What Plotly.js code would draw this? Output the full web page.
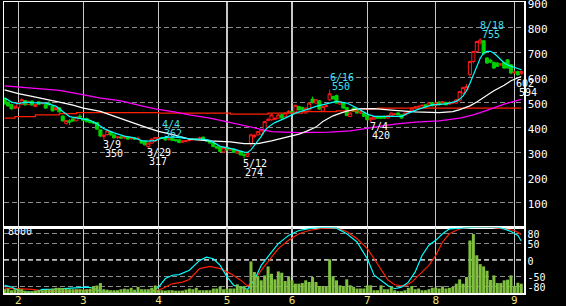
<!DOCTYPE html>
<html><head><meta charset="utf-8">
<script src="https://cdn.plot.ly/plotly-3.0.1.min.js"></script>
<style>html,body{margin:0;padding:0;background:#000;}#chart{width:566px;height:306px;}</style>
</head><body><div id="chart"></div>
<script>
// ---- daily candles (trading-day index 0 = late January) ----
const opens = [514,498,490,475,478,492,506,490,504,482,501,494,491,495,484,470,477,444,415,425,433,425,444,433,434,424,420,418,389,362,370,380,369,358,361,357,360,354,356,352,345,342,322,336,344,356,358,354,350,356,350,349,340,342,346,350,352,352,360,349,346,336,322,318,300,318,308,312,296,302,290,283,335,362,369,372,385,426,429,430,436,449,442,458,462,460,482,478,456,469,512,496,505,464,482,509,522,526,492,496,478,442,476,469,456,456,446,429,432,438,438,442,436,445,450,456,449,448,456,466,478,481,485,489,486,498,486,500,492,498,492,496,496,505,536,549,610,662,702,738,745,676,667,658,656,648,658,669,649,616,622,613];
const highs = [518,503,494,486,500,515,509,506,507,493,504,500,494,505,486,480,479,448,428,432,436,442,452,436,438,427,424,420,391,372,390,382,372,365,364,366,362,360,360,362,348,344,338,355,360,360,362,358,356,358,352,351,346,348,352,356,357,362,362,352,348,338,325,320,320,320,316,314,308,304,296,298,374,372,384,392,425,438,452,440,452,452,458,468,466,490,485,482,478,500,522,512,508,484,490,550,526,530,506,500,480,460,480,472,470,458,448,440,442,444,444,446,448,458,456,460,451,458,464,478,484,486,490,492,498,500,498,504,504,502,504,502,512,545,562,572,665,705,745,755,748,680,672,662,660,656,662,672,652,626,625,628];
const lows = [490,480,470,472,475,488,486,488,486,480,488,490,473,483,462,466,458,421,410,408,422,423,436,424,419,415,412,388,360,350,366,365,354,352,354,352,350,349,350,348,334,327,317,333,340,352,352,347,346,345,343,336,337,339,342,346,348,349,347,342,334,320,312,300,298,306,305,297,293,287,274,280,322,356,366,368,383,424,426,428,434,434,440,455,455,458,466,467,454,466,494,494,468,460,480,505,510,494,490,474,444,440,460,454,452,441,427,420,430,434,432,434,434,443,448,447,434,445,454,464,476,479,483,478,484,483,484,487,490,487,490,493,494,502,532,546,600,655,698,730,690,652,656,632,640,644,632,634,612,612,606,610];
const closes = [493,485,473,483,497,510,489,503,488,490,491,497,476,490,465,477,461,425,426,420,424,440,440,427,421,418,416,392,364,368,385,369,357,360,356,362,352,357,352,355,336,329,336,352,358,358,355,349,353,347,345,338,344,346,349,353,350,356,349,345,336,322,316,302,318,309,313,299,305,289,286,296,369,366,382,389,422,430,449,434,449,436,456,462,458,487,469,470,476,496,498,509,472,482,486,533,513,496,502,476,446,456,463,456,462,443,429,436,440,436,436,436,446,456,452,449,436,456,462,476,480,483,487,480,496,485,496,489,502,489,496,498,509,542,558,562,662,702,742,748,693,656,660,636,643,652,636,636,616,620,609,622];
const volumes = [460,530,340,460,530,460,280,220,220,300,340,340,400,460,530,630,630,600,530,460,460,460,460,400,460,500,790,910,1210,460,400,340,340,340,460,530,460,630,400,750,460,460,460,630,910,340,340,300,340,340,280,280,300,400,545,460,630,340,340,340,340,545,545,820,460,545,545,545,1060,850,850,420,3840,2550,2060,1540,2140,3230,2340,1660,2620,2460,1460,2020,1540,1130,1130,1210,1540,1340,1940,1340,850,850,750,4090,2020,1540,930,850,1660,930,750,545,545,545,930,930,340,340,930,460,460,750,340,220,220,340,630,850,460,545,340,340,460,630,670,545,820,545,630,750,1130,1660,1130,1940,6390,7170,4590,3510,3230,2700,1580,2140,1210,1210,1540,1620,2140,850,1250,1130];

// ---- moving averages (day index, value) ----
const shortMaDays = [0,2,4,6,8,10,12,14,15,17,19,22,25,27,29,32,35,38,40,42,44,46,49,53,55,58,60,63,67,70,71,72,73,74,75,76,77,79,82,85,88,91,94,97,100,103,106,108,111,116,118,121,125,129,132,133,134,135,136,137,138,139,140,141,142,143,144,145,146,147,148,149,150,151];
const shortMa = [517,500,494,500,498,497,496,488,484,462,442,435,427,413,394,377,364,357,346,344,346,357,361,355,352,352,347,323,312,300,299,309,325,345,363,385,400,418,436,456,469,483,493,503,496,476,452,443,443,443,456,472,489,493,503,512,525,545,575,610,643,675,696,703,703,695,683,670,656,648,643,638,633,629];
const midMaDays = [0,4,8,12,16,20,23,28,34,38,42,45,50,54,60,66,70,74,78,82,86,88,91,93,96,98,100,103,108,114,120,127,131,133,136,138,140,143,146,148,151];
const midMa = [549,534,523,510,500,488,476,463,436,415,396,383,367,352,345,341,334,334,345,358,372,382,400,422,445,455,464,473,474,467,461,458,462,470,485,500,518,545,567,585,602];
const longMaDays = [0,9,16,22,28,32,34,40,44,50,54,60,66,72,78,86,95,101,104,109,114,120,127,133,137,142,146,151];
const longMa = [565,556,547,532,516,509,505,485,473,460,449,436,418,402,382,378,380,385,391,400,412,420,425,436,449,472,492,511];
const stepMaDays = [0,3,9,16,21,45,66,77,87,97,103,109,151];
const stepMa = [436,442,449,454,458,456,452,456,462,465,473,476,476];

// ---- oscillator (lower panel) ----
const oscFastDays = [0,2,4,6,9,11,14,18,22,24,26,28,31,34,43,45,47,49,51,53,54,57,59,61,63,65,67,69,71,73,75,78,80,83,86,90,94,97,100,103,106,108,110,112,114,116,118,120,122,124,126,128,130,134,138,144,146,148,150,151];
const oscFast = [-77,-82,-92,-97,-97,-89,-89,-87,-85,-82,-85,-95,-99,-100,-97,-82,-56,-46,-44,-36,-31,-1,9,4,-16,-51,-77,-82,-89,-61,-16,24,50,75,90,97,100,97,80,55,4,-46,-61,-77,-87,-82,-67,-36,14,45,60,80,95,98,100,100,95,87,75,58];
const oscSlowDays = [0,4,8,12,18,22,27,31,34,43,46,49,52,54,57,60,63,66,69,71,73,75,78,80,83,86,89,93,97,100,103,106,108,110,112,114,117,119,122,124,126,128,130,133,136,142,146,149,151];
const oscSlow = [-85,-87,-89,-95,-95,-92,-93,-97,-100,-99,-87,-72,-67,-59,-26,-19,-26,-41,-61,-79,-62,-31,9,35,60,80,90,97,97,87,65,35,4,-30,-60,-75,-79,-67,-36,-16,14,55,80,95,99,100,95,90,78];

// ---- axis labels ----
const monthTickDays = [4,23,45,65,84,106,126,149];
const monthLabels = ['2','3','4','5','6','7','8','9'];
const priceTicks = [100,200,300,400,500,600,700,800,900];
const oscTicks = [80,50,0,-50,-80];
const oscTickText = ['80','50','0','-50','-80'];

// ---- marked highs / lows ----
const markDays = [29,42,46,70,95,107,139];
const markDates = ['3/9','3/29','4/4','5/12','6/16','7/4','8/18'];
const markPrices = [350,317,362,274,550,420,755];
const markKinds = ['low','low','high','low','high','low','high'];
const lastLabels = ['602','594'];
const volTopLabel = '8000';

const days = opens.map((_, i) => i);
const FONT = 'DejaVu Sans Mono';
const GRID = '#8c8c8c';

const traces = [
  {type:'candlestick', x:days, open:opens, high:highs, low:lows, close:closes, xaxis:'x', yaxis:'y',
   increasing:{line:{color:'#ff1a1a', width:1}, fillcolor:'#000000'},
   decreasing:{line:{color:'#00d000', width:1}, fillcolor:'#00d000'},
   whiskerwidth:0, hoverinfo:'skip'},
  {type:'scatter', mode:'lines', x:stepMaDays, y:stepMa, line:{color:'#ff2000', width:1.2, shape:'hv'}, xaxis:'x', yaxis:'y', hoverinfo:'skip'},
  {type:'scatter', mode:'lines', x:longMaDays, y:longMa, line:{color:'#ff00ff', width:1.2}, xaxis:'x', yaxis:'y', hoverinfo:'skip'},
  {type:'scatter', mode:'lines', x:midMaDays, y:midMa, line:{color:'#ffffff', width:1.2}, xaxis:'x', yaxis:'y', hoverinfo:'skip'},
  {type:'scatter', mode:'lines', x:shortMaDays, y:shortMa, line:{color:'#00ffff', width:1.2}, xaxis:'x', yaxis:'y', hoverinfo:'skip'},
  {type:'bar', x:days, y:volumes, marker:{color:'#80c040', line:{width:0}}, xaxis:'x2', yaxis:'y3', hoverinfo:'skip'},
  {type:'scatter', mode:'lines', x:oscSlowDays, y:oscSlow, line:{color:'#ff2000', width:1.2}, xaxis:'x2', yaxis:'y2', hoverinfo:'skip'},
  {type:'scatter', mode:'lines', x:oscFastDays, y:oscFast, line:{color:'#00ffff', width:1.2}, xaxis:'x2', yaxis:'y2', hoverinfo:'skip'}
];

const annotations = [];
markDays.forEach((d, k) => {
  const isLow = markKinds[k] === 'low';
  const col = isLow ? '#ffffff' : '#40e0f0';
  const f = {family:FONT, size:10, color:col};
  if (isLow) {
    annotations.push({x:d, y:markPrices[k], xref:'x', yref:'y', text:markDates[k], showarrow:false, xanchor:'left', yanchor:'top', xshift:-3, yshift:3, font:f});
    annotations.push({x:d, y:markPrices[k], xref:'x', yref:'y', text:String(markPrices[k]), showarrow:false, xanchor:'left', yanchor:'top', xshift:-1, yshift:-6, font:f});
  } else {
    annotations.push({x:d, y:markPrices[k], xref:'x', yref:'y', text:String(markPrices[k]), showarrow:false, xanchor:'left', yanchor:'bottom', xshift:0, yshift:-4, font:f});
    annotations.push({x:d, y:markPrices[k], xref:'x', yref:'y', text:markDates[k], showarrow:false, xanchor:'left', yanchor:'bottom', xshift:-2, yshift:5, font:f});
  }
});
const lastDay = days[days.length-1];
annotations.push({x:lastDay, y:midMa[midMa.length-1], xref:'x', yref:'y', text:lastLabels[0], showarrow:false, xanchor:'left', yanchor:'top', xshift:-7, yshift:1, font:{family:FONT, size:10, color:'#ffffff'}});
annotations.push({x:lastDay, y:midMa[midMa.length-1], xref:'x', yref:'y', text:lastLabels[1], showarrow:false, xanchor:'left', yanchor:'top', xshift:-4, yshift:-8, font:{family:FONT, size:10, color:'#ffffff'}});
annotations.push({x:0, y:1, xref:'paper', yref:'y3 domain', text:volTopLabel, showarrow:false, xanchor:'left', yanchor:'top', xshift:2, yshift:3, font:{family:FONT, size:10, color:'#ffffff'}});

const xr = [-0.18, 151.8];
const layout = {
  width:566, height:306,
  margin:{l:4, r:42, t:2, b:13, pad:0},
  paper_bgcolor:'#000000', plot_bgcolor:'#000000',
  showlegend:false, hovermode:false, dragmode:false,
  bargap:0.12, boxgap:0.1, boxgroupgap:0,
  font:{family:FONT, size:10, color:'#ffffff'},
  xaxis:{domain:[0,1], anchor:'y', range:xr, type:'linear', matches:'x2',
    rangeslider:{visible:false}, tickmode:'array', tickvals:monthTickDays, ticktext:monthLabels,
    showticklabels:false, showgrid:true, gridcolor:'#c8c8c8', gridwidth:1.5, zeroline:false,
    showline:true, mirror:true, linecolor:'#ffffff', linewidth:1.5, ticks:''},
  yaxis:{domain:[0.2262,1], anchor:'x', side:'right', range:[0,900], tickmode:'array', tickvals:priceTicks,
    showgrid:true, gridcolor:GRID, gridwidth:1, griddash:'5px,3px', zeroline:false,
    showline:true, mirror:true, linecolor:'#ffffff', linewidth:1.5, ticks:'',
    ticklabeloverflow:'allow', ticklabelshift:2,
    tickfont:{family:FONT, size:11, color:'#ffffff'}},
  xaxis2:{domain:[0,1], anchor:'y2', range:xr, type:'linear',
    rangeslider:{visible:false}, tickmode:'array', tickvals:monthTickDays, ticktext:monthLabels,
    showgrid:true, gridcolor:'#c8c8c8', gridwidth:1.5, zeroline:false,
    showline:true, mirror:true, linecolor:'#ffffff', linewidth:1.5, ticks:'',
    ticklabeloverflow:'allow', ticklabelstandoff:-4,
    tickfont:{family:FONT, size:11, color:'#f2e27a'}},
  yaxis2:{domain:[0,0.2262], anchor:'x2', side:'right', range:[-100,100], tickmode:'array', tickvals:oscTicks, ticktext:oscTickText,
    showgrid:true, gridcolor:GRID, gridwidth:1, griddash:'5px,3px', zeroline:false,
    showline:true, mirror:true, linecolor:'#ffffff', linewidth:1.5, ticks:'',
    ticklabeloverflow:'allow', ticklabelshift:1,
    tickfont:{family:FONT, size:10, color:'#ffffff'}},
  yaxis3:{overlaying:'y2', anchor:'x2', range:[0,8000], visible:false, showgrid:false},
  shapes:[{type:'line', xref:'paper', yref:'y2', x0:0, x1:1, y0:0, y1:0, line:{color:'#ffffff', width:1.5, dash:'5px,3px'}, layer:'below'}],
  annotations:annotations
};
Plotly.newPlot('chart', traces, layout, {staticPlot:true, displayModeBar:false});
</script></body></html>
